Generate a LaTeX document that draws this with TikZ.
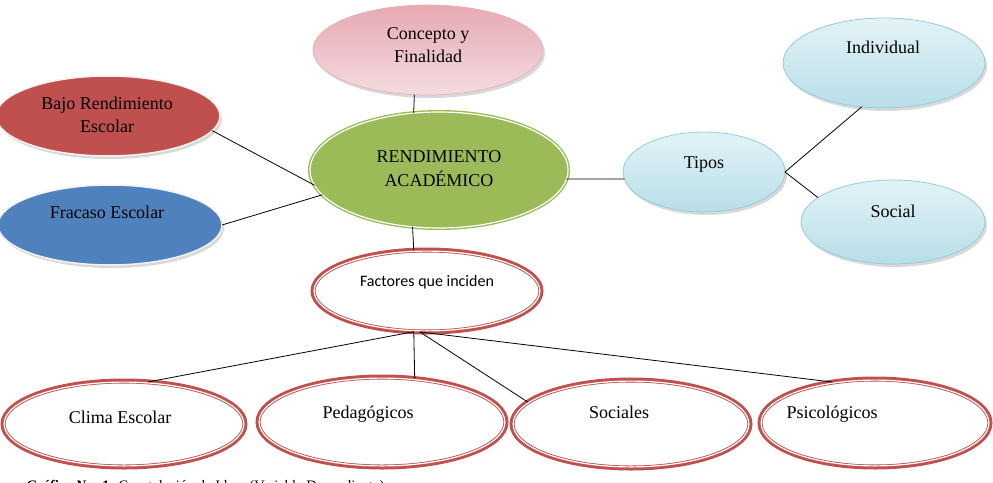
\documentclass[tikz,border=0pt]{standalone}
\usepackage{fontspec}
\setmainfont{Liberation Serif}
\newfontfamily\calib{Carlito}
\usetikzlibrary{shapes.geometric,shadows}
\definecolor{redA}{HTML}{C0504D}
\definecolor{blueA}{HTML}{4F81BD}
\definecolor{greenA}{HTML}{9BBB59}
\definecolor{pinkT}{HTML}{E7A9B2}
\definecolor{pinkB}{HTML}{F4DCE0}
\definecolor{pinkE}{HTML}{E4B3B9}
\definecolor{blueT}{HTML}{E3F3F7}
\definecolor{blueB}{HTML}{B8DEE8}
\definecolor{blueE}{HTML}{93CDDD}
\definecolor{rimW}{HTML}{F2F2F2}
\begin{document}
\begin{tikzpicture}[x=1pt,y=-1pt,
  every node/.style={inner sep=0pt, outer sep=0pt},
  lbl/.style={font=\fontsize{18}{22}\selectfont, anchor=base},
  shad/.style={drop shadow={shadow xshift=2pt, shadow yshift=-3pt, opacity=0.3}},
  solidell/.style={ellipse, fill=#1, draw=rimW, line width=1.5pt, shad},
  pinkell/.style={ellipse, top color=pinkT, bottom color=pinkB, draw=pinkE, line width=0.8pt, shad},
  blueell/.style={ellipse, top color=blueT, bottom color=blueB, draw=blueE, line width=0.8pt, shad},
  greenell/.style={ellipse, fill=greenA, draw=greenA, double=white, line width=1.4pt, double distance=1.2pt},
  ringell/.style={ellipse, fill=white, draw=redA, line width=5pt},
  conn/.style={draw=black, line width=0.8pt}
]
\useasboundingbox (0,0) rectangle (993,482);

% nodes
\node[pinkell, minimum width=230pt, minimum height=90pt] (conc) at (428,50) {};
\node[lbl] (concA) at (428,39) {Concepto y};
\node[lbl] (concB) at (428,62) {Finalidad};

\node[solidell=redA, minimum width=224pt, minimum height=80pt] (bajo) at (108,116) {};
\node[lbl] (bajoA) at (107,109) {Bajo Rendimiento};
\node[lbl] (bajoB) at (107,132) {Escolar};

\node[solidell=blueA, minimum width=224pt, minimum height=80pt] (fra) at (110,225) {};
\node[lbl] (fraA) at (107,218) {Fracaso Escolar};

\node[greenell, minimum width=258pt, minimum height=116pt] (ra) at (439,170) {};
\node[lbl] (raA) at (439,162) {RENDIMIENTO};
\node[lbl] (raB) at (439,186) {ACADÉMICO};

\node[blueell, minimum width=162pt, minimum height=80pt] (tip) at (704,172) {};
\node[lbl] (tipA) at (704,168) {Tipos};

\node[blueell, minimum width=202pt, minimum height=90pt] (ind) at (884,63) {};
\node[lbl] (indA) at (883,53) {Individual};

\node[blueell, minimum width=184pt, minimum height=84pt] (soc) at (893,222) {};
\node[lbl] (socA) at (893,217) {Social};

\node[ringell, minimum width=228pt, minimum height=82pt] (fac) at (427,291) {};
\node[anchor=base, font=\calib\fontsize{16}{19}\selectfont] (facA) at (427,286) {Factores que inciden};

\node[ringell, minimum width=242pt, minimum height=86pt] (cli) at (124,424) {};
\node[lbl] (cliA) at (120,423) {Clima Escolar};

\node[ringell, minimum width=248pt, minimum height=90pt] (ped) at (382,422) {};
\node[lbl] (pedA) at (368,418) {Pedagógicos};

\node[ringell, minimum width=238pt, minimum height=88pt] (socs) at (631,424) {};
\node[lbl] (socsA) at (619,418) {Sociales};

\node[ringell, minimum width=230pt, minimum height=88pt] (psi) at (875,423) {};
\node[lbl] (psiA) at (832,418) {Psicológicos};

% inner white line of the red rings
\foreach \nn/\xr/\yr in {fac/114/41, cli/121/43, ped/124/45, socs/119/44, psi/115/44}
  \draw[white, line width=1.2pt] (\nn.center) ellipse [x radius={\xr pt-1.1pt}, y radius={\yr pt-1.1pt}];

% connectors
\draw[conn] (conc.-107) -- (ra.114);
\draw[conn] (bajo.-8) -- (ra.187);
\draw[conn] (fra.east) -- (ra.192);
\draw[conn] (ra.-4.5) -- (tip.185);
\draw[conn] (tip.east) -- (ind.-117);
\draw[conn] (tip.east) -- (soc.162);
\draw[conn] (ra.-115) -- (fac.108);
\draw[conn] (fac.-108) -- (cli.60);
\draw[conn] (fac.-108) -- (ped.53);
\draw[conn] (fac.-100) -- (socs.168);
\draw[conn] (fac.-100) -- (psi.136);

% caption (cut by the page edge, as in the reference)
\node[anchor=base west, font=\fontsize{14.5}{16}\selectfont] (cap) at (26,490) {\textbf{\textit{Gráfico No. 1:}} Constelación de Ideas (Variable Dependiente)};
\end{tikzpicture}
\end{document}
